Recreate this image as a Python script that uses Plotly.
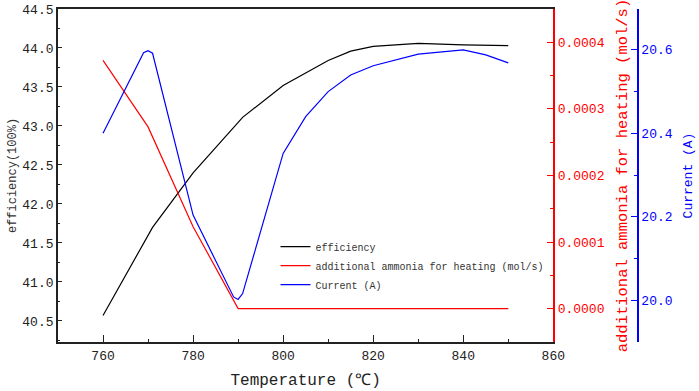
import plotly.graph_objects as go

# Data
eff_T = [760, 771, 780, 791, 800, 810, 815, 820, 830, 840, 850]
efficiency = [40.57, 41.70, 42.40, 43.11, 43.52, 43.84, 43.96, 44.02, 44.06, 44.04, 44.03]

nh3_T = [760, 770, 780, 790, 800, 810, 820, 830, 840, 850]
ammonia = [0.000373, 0.000273, 0.000123, 0.0, 0.0, 0.0, 0.0, 0.0, 0.0, 0.0]

cur_T = [760, 769, 770, 771, 780, 789, 790, 791, 800, 805, 810, 815, 820, 830, 840, 845, 850]
current = [20.40, 20.593, 20.598, 20.592, 20.204, 20.008, 20.002, 20.016, 20.352, 20.44,
           20.50, 20.54, 20.562, 20.590, 20.60, 20.588, 20.569]

FONT = "Liberation Mono"
RED = "#FF0000"
BLUE = "#0000FF"

fig = go.Figure()
fig.add_trace(go.Scatter(x=eff_T, y=efficiency, mode="lines", name="efficiency",
                         line=dict(color="black", width=1.2), yaxis="y"))
fig.add_trace(go.Scatter(x=nh3_T, y=ammonia, mode="lines",
                         name="additional ammonia for heating (mol/s)",
                         line=dict(color=RED, width=1.2), yaxis="y2"))
fig.add_trace(go.Scatter(x=cur_T, y=current, mode="lines", name="Current (A)",
                         line=dict(color=BLUE, width=1.2), yaxis="y3"))

fig.update_layout(
    width=699, height=391,
    margin=dict(l=58, r=61, t=9, b=49, autoexpand=False),
    paper_bgcolor="white", plot_bgcolor="white",
    font=dict(family=FONT, size=13, color="#222"),
    xaxis=dict(
        domain=[0, 0.854], range=[750, 860], dtick=20, tick0=760, automargin=False,
        showgrid=False, zeroline=False,
        showline=True, linecolor="#222", linewidth=1.8, mirror=True,
        ticks="inside", ticklen=7, tickwidth=1.2, tickcolor="#222",
        minor=dict(dtick=10, tick0=760, ticks="inside", ticklen=3.5, tickwidth=1.2, tickcolor="#222"),
        tickfont=dict(family=FONT, size=13, color="#222"),
        title=dict(text="Temperature (℃)", font=dict(family=FONT, size=16, color="#222"), standoff=11),
    ),
    yaxis=dict(
        range=[40.23, 44.5], dtick=0.5, tick0=40.5, tickformat=".1f", automargin=False,
        showgrid=False, zeroline=False,
        showline=True, linecolor="#222", linewidth=1.8,
        ticks="inside", ticklen=4, tickwidth=1.2, tickcolor="#222",
        minor=dict(dtick=0.25, tick0=40.5, ticks="inside", ticklen=2.5, tickwidth=1.2, tickcolor="#222"),
        tickfont=dict(family=FONT, size=13, color="#222"),
        title=dict(text="efficiency(100%)", font=dict(family=FONT, size=12, color="#333"), standoff=3),
    ),
    yaxis2=dict(
        overlaying="y", side="right", anchor="x", automargin=False,
        range=[-0.0000502, 0.0004501], dtick=0.0001, tick0=0, tickformat=".4f",
        showgrid=False, zeroline=False,
        showline=True, linecolor=RED, linewidth=1.5,
        ticks="inside", ticklen=7, tickwidth=1.2, tickcolor=RED,
        minor=dict(dtick=0.00005, tick0=0, ticks="inside", ticklen=3.5, tickwidth=1.2, tickcolor=RED),
        tickfont=dict(family=FONT, size=13, color=RED),
        title=dict(text="additional ammonia for heating (mol/s)", font=dict(family=FONT, size=15.5, color=RED), standoff=12),
    ),
    yaxis3=dict(
        overlaying="y", side="right", anchor="free", position=1.0, automargin=False,
        range=[19.9, 20.698], dtick=0.2, tick0=20.0, tickformat=".1f",
        showgrid=False, zeroline=False,
        showline=True, linecolor=BLUE, linewidth=1.5,
        ticks="inside", ticklen=6, tickwidth=1.2, tickcolor=BLUE,
        minor=dict(dtick=0.1, tick0=20.0, ticks="inside", ticklen=3, tickwidth=1.2, tickcolor=BLUE),
        tickfont=dict(family=FONT, size=13, color=BLUE),
        title=dict(text="Current (A)", font=dict(family=FONT, size=13, color=BLUE), standoff=10),
    ),
    legend=dict(x=0.375, y=0.33, xanchor="left", yanchor="top",
                bgcolor="rgba(0,0,0,0)", borderwidth=0,
                font=dict(family=FONT, size=10, color="#333"),
                itemwidth=30, tracegroupgap=0),
    showlegend=True,
)

# remove the default 8px page margin so the figure fills the 699x391 window
fig.write_html("out.html", config={"displayModeBar": False},
               post_script="document.body.style.margin='0';")
